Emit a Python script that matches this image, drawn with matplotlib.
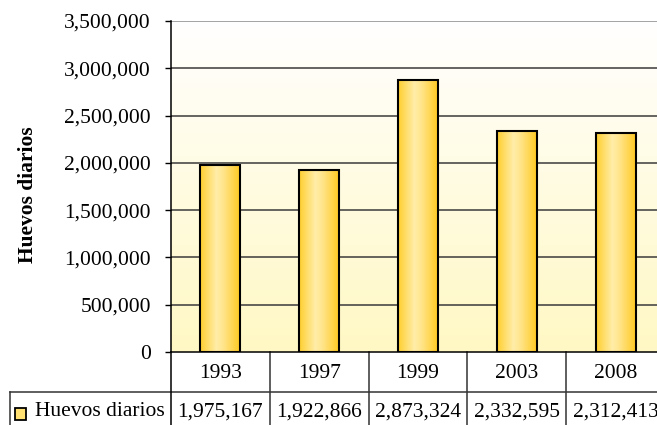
import matplotlib
matplotlib.use("Agg")
import matplotlib.pyplot as plt
import numpy as np
from matplotlib.colors import LinearSegmentedColormap
from matplotlib.patches import Rectangle
from matplotlib.ticker import FuncFormatter, MultipleLocator

categories = ["1993", "1997", "1999", "2003", "2008"]
values = [1975167, 1922866, 2873324, 2332595, 2312413]
series_name = "Huevos diarios"
y_label = "Huevos diarios"

W, H = 657, 425
fig = plt.figure(figsize=(W / 100, H / 100), dpi=100)
plt.rcParams['font.family'] = ['Liberation Serif', 'DejaVu Serif']

left_px, right_px, top_px, bottom_px = 171, 665, 21, 352
ax = fig.add_axes([left_px / W, (H - bottom_px) / H,
                   (right_px - left_px) / W, (bottom_px - top_px) / H])

def ax_y(p):
    return (bottom_px - p) / (bottom_px - top_px)

def ax_x(p):
    return (p - left_px) / (right_px - left_px)

FS = 15.5

# background gradient
bg = LinearSegmentedColormap.from_list("bg", ["#FFF8C4", "#FFFFFF"])
grad = np.linspace(0, 1, 256).reshape(-1, 1)
ax.imshow(grad, cmap=bg, origin="lower", extent=[0, 1, 0, 1],
          transform=ax.transAxes, aspect="auto", zorder=0)

# grid
for yv in np.arange(500000, 3500001, 500000):
    ax.axhline(yv, color="#3a3a3a" if yv < 3500000 else "#8a8a8a",
               lw=1.1, zorder=1)

# bars
barcm = LinearSegmentedColormap.from_list(
    "bar", [(0, "#FFCF2E"), (0.4, "#FFEDA8"), (0.55, "#FFE690"), (1.0, "#FFC81C")])
hgrad = np.linspace(0, 1, 256).reshape(1, -1)
bars = ax.bar(range(len(categories)), values, width=0.405,
              facecolor="none", edgecolor="black", linewidth=1.5, zorder=3)
for b in bars:
    x0, y0 = b.get_x(), b.get_y()
    im = ax.imshow(hgrad, cmap=barcm, extent=[x0, x0 + b.get_width(), y0, y0 + b.get_height()],
                   aspect="auto", zorder=2)
    im.set_clip_path(b)

ax.set_xlim(-0.5, len(categories) - 0.5)
ax.set_ylim(0, 3500000)
ax.yaxis.set_major_locator(MultipleLocator(500000))

for s in ["top", "right", "bottom"]:
    ax.spines[s].set_visible(False)
ax.spines["left"].set_color("black")
ax.spines["left"].set_linewidth(1.1)
ax.spines["left"].set_zorder(4)

ax.yaxis.set_major_formatter(FuncFormatter(lambda v, p: f"{int(v):,}"))
ax.tick_params(axis="y", direction="out", length=4.5, width=1, pad=10,
               labelsize=FS, colors="black")
ax.set_xticks(range(len(categories)))
ax.set_xticklabels(categories)
ax.tick_params(axis="x", length=0, pad=9, labelsize=FS)

ax.set_ylabel(y_label, fontsize=15.5, fontweight="bold")
ax.yaxis.set_label_coords(ax_x(38), ax_y(195))

# data table lines
lc = "#333333"
yb = ax_y(425)
yr = ax_y(392)
ax.plot([0, 0], [0, yb], transform=ax.transAxes, color="black", lw=1.1, clip_on=False, zorder=5)
for i in range(1, len(categories) + 1):
    xa = i / len(categories)
    ax.plot([xa, xa], [0, yb], transform=ax.transAxes, color=lc, lw=1.1, clip_on=False)
ax.plot([0, 1], [0, 0], transform=ax.transAxes, color="black", lw=1.1, clip_on=False, zorder=5)
ax.plot([ax_x(10), 1], [yr, yr], transform=ax.transAxes, color=lc, lw=1.1, clip_on=False)
ax.plot([ax_x(10), ax_x(10)], [yr, yb], transform=ax.transAxes, color=lc, lw=1.1, clip_on=False)

# value row
yv_txt = ax_y(412)
for i, v in enumerate(values):
    ax.text((i + 0.5) / len(categories), yv_txt, f"{v:,}", transform=ax.transAxes,
            ha="center", va="center", fontsize=FS, clip_on=False)

# legend key
key = Rectangle((ax_x(15), ax_y(420)), ax_x(26) - ax_x(15), ax_y(408) - ax_y(420),
                transform=ax.transAxes, facecolor="#FFE070", edgecolor="black",
                lw=1.3, clip_on=False)
ax.add_patch(key)
ax.text(ax_x(35), yv_txt, series_name, transform=ax.transAxes,
        ha="left", va="center", fontsize=FS, clip_on=False)

fig.savefig("out.png", dpi=100)
